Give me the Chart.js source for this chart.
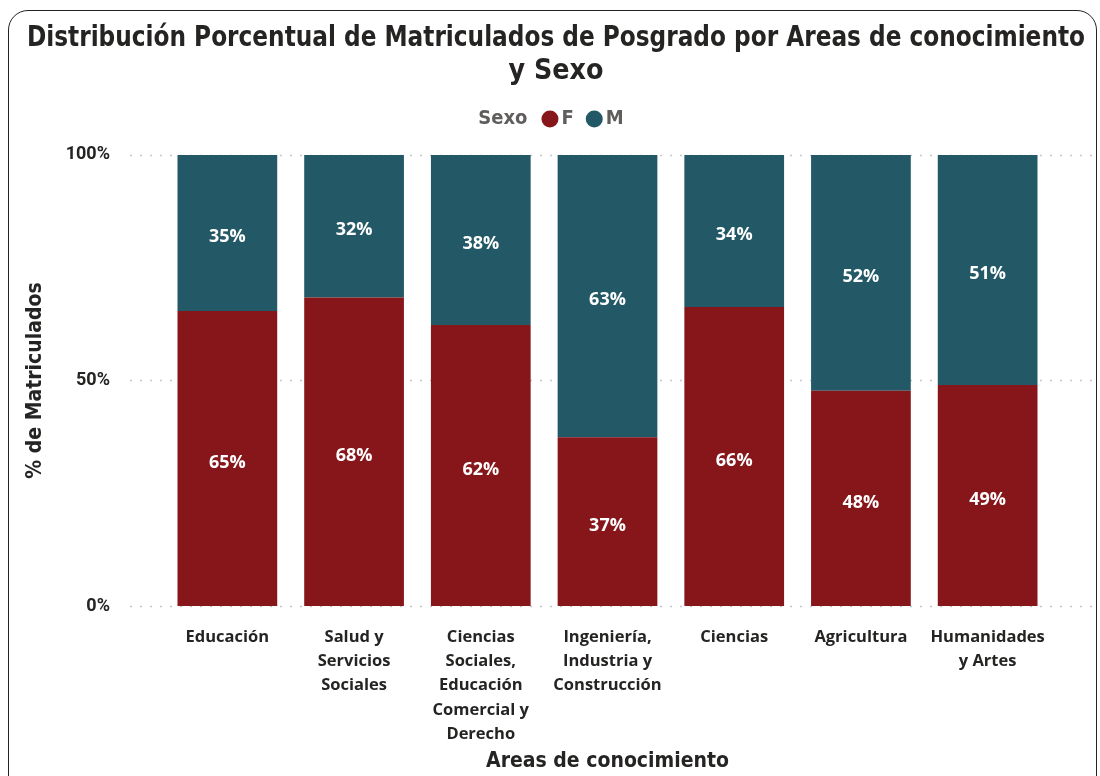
<!DOCTYPE html>
<html><head><meta charset="utf-8">
<script src="https://cdn.jsdelivr.net/npm/chart.js@4"></script>
<style>
html,body{margin:0;padding:0;background:#fff;overflow:hidden;}
#wrap{position:relative;width:1100px;height:776px;}
#card{position:absolute;left:8px;top:10px;width:1087px;height:800px;border:1.5px solid #222;border-radius:20px;pointer-events:none;}
canvas{position:absolute;left:0;top:0;}
</style></head><body>
<div id="wrap"><canvas id="c" width="1100" height="776"></canvas><div id="card"></div></div>
<script>
const titleLines = ["Distribución Porcentual de Matriculados de Posgrado por Areas de conocimiento", "y Sexo"];
const categories = [["Educación"],["Salud y","Servicios","Sociales"],["Ciencias","Sociales,","Educación","Comercial y","Derecho"],["Ingeniería,","Industria y","Construcción"],["Ciencias"],["Agricultura"],["Humanidades","y Artes"]];
const seriesF = [65.4, 68.4, 62.3, 37.4, 66.3, 47.7, 49.0];
const seriesM = [34.6, 31.6, 37.7, 62.6, 33.7, 52.3, 51.0];
const yTicks = [0, 50, 100];
const legendTitle = "Sexo";
const colorF = "#87161B";
const colorM = "#235866";
const dark = "#252423";
const condFamily = '"DejaVu Sans Condensed", "DejaVu Sans"';

const gridPlugin = {
  id: 'dotgrid',
  beforeDatasetsDraw(chart) {
    const ctx = chart.ctx, ys = chart.scales.y;
    ctx.save();
    ctx.strokeStyle = '#C6C6C6';
    ctx.lineWidth = 1.5;
    ctx.setLineDash([2, 8]);
    yTicks.forEach(v => {
      const y = Math.round(ys.getPixelForValue(v)) + 0.5;
      ctx.beginPath(); ctx.moveTo(130, y); ctx.lineTo(1095, y); ctx.stroke();
    });
    ctx.restore();
  }
};
const labelPlugin = {
  id: 'barlabels',
  afterDatasetsDraw(chart) {
    const ctx = chart.ctx;
    ctx.save();
    ctx.fillStyle = '#fff';
    ctx.font = '700 18px "Open Sans"';
    ctx.textAlign = 'center';
    ctx.textBaseline = 'middle';
    chart.data.datasets.forEach((ds, i) => {
      chart.getDatasetMeta(i).data.forEach((bar, j) => {
        const y = (bar.y + bar.base) / 2 + 4;
        ctx.fillText(Math.round(ds.data[j]) + '%', bar.x, y);
      });
    });
    ctx.restore();
  }
};
const legendPlugin = {
  id: 'sexlegend',
  afterDraw(chart) {
    const ctx = chart.ctx;
    ctx.save();
    ctx.font = 'bold condensed 20px ' + condFamily;
    ctx.textBaseline = 'middle';
    const y = 119, r = 8.5;
    const items = chart.data.datasets.map(d => ({t: d.label, c: d.backgroundColor}));
    let w = ctx.measureText(legendTitle).width + 14;
    items.forEach((it, k) => { w += 2*r + 3 + ctx.measureText(it.t).width + (k < items.length-1 ? 12 : 0); });
    let x = 551 - w/2;
    ctx.fillStyle = '#605E5C';
    ctx.fillText(legendTitle, x, y);
    x += ctx.measureText(legendTitle).width + 14;
    items.forEach(it => {
      ctx.fillStyle = it.c;
      ctx.beginPath(); ctx.arc(x + r, y, r, 0, Math.PI*2); ctx.fill();
      x += 2*r + 3;
      ctx.fillStyle = '#605E5C';
      ctx.fillText(it.t, x, y);
      x += ctx.measureText(it.t).width + 12;
    });
    ctx.restore();
  }
};

new Chart(document.getElementById('c'), {
  type: 'bar',
  data: {
    labels: categories,
    datasets: [
      {label: 'F', data: seriesF, backgroundColor: colorF, categoryPercentage: 1, barPercentage: 0.787},
      {label: 'M', data: seriesM, backgroundColor: colorM, categoryPercentage: 1, barPercentage: 0.787}
    ]
  },
  options: {
    responsive: false,
    animation: false,
    layout: {padding: {left: 27, right: 15, top: 0, bottom: 0}},
    plugins: {
      legend: {display: false},
      tooltip: {enabled: false},
      title: {
        display: true, text: titleLines, color: dark,
        font: {family: condFamily, size: 28.3, weight: 'bold condensed', lineHeight: 1.166},
        padding: {top: 22, bottom: 67}
      }
    },
    scales: {
      x: {
        stacked: true,
        grid: {display: false, drawTicks: false},
        border: {display: false},
        ticks: {color: dark, font: {family: '"Open Sans"', size: 16.5, weight: 'bold', lineHeight: 1.47}, padding: 19, maxRotation: 0, autoSkip: false},
        title: {display: true, text: 'Areas de conocimiento', color: dark, font: {family: condFamily, size: 21, weight: 'bold condensed', lineHeight: 1.2}, padding: {top: 0, bottom: 2}},
        afterFit(s) { s.height = 170; }
      },
      y: {
        stacked: true, min: 0, max: 100,
        grid: {display: false, drawTicks: false},
        border: {display: false},
        afterBuildTicks(s) { s.ticks = yTicks.map(v => ({value: v})); },
        ticks: {color: dark, font: {family: 'Roboto', size: 18, weight: 'bold'}, padding: 54, callback: v => v + '%'},
        title: {display: true, text: '% de Matriculados', color: dark, font: {family: condFamily, size: 21, weight: 'bold condensed', lineHeight: 1.2}, padding: {top: -3.6, bottom: 0}},
        afterFit(s) { s.width = 137; }
      },
      yRight: {
        position: 'right', display: true,
        grid: {display: false, drawTicks: false},
        border: {display: false},
        ticks: {display: false},
        afterFit(s) { s.width = 34; }
      }
    }
  },
  plugins: [gridPlugin, labelPlugin, legendPlugin]
});
</script>
</body></html>
